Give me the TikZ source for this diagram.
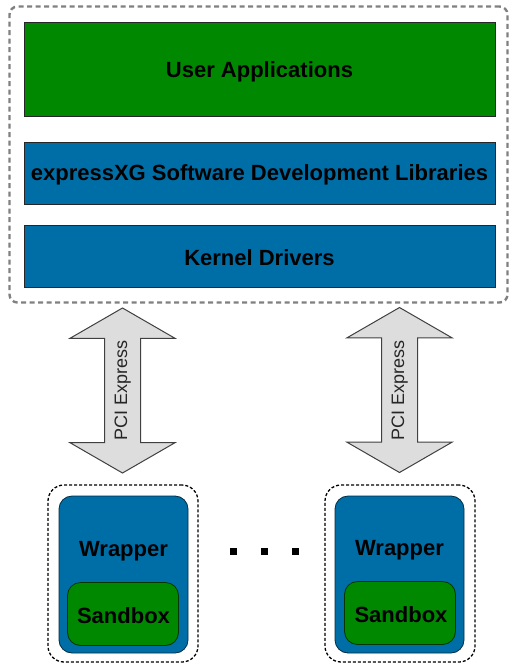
\documentclass[tikz,border=0pt]{standalone}
\usepackage{fontspec}
\setmainfont{Liberation Sans}
\usetikzlibrary{shapes.arrows}
\definecolor{appgreen}{HTML}{008800}
\definecolor{layblue}{HTML}{006EA6}
\definecolor{arrowgray}{HTML}{DDDDDD}
\tikzset{
  layer/.style={draw=black!85, line width=1pt, minimum width=471pt, font=\fontsize{22}{24}\selectfont\bfseries, inner sep=0pt},
  hostbox/.style={draw=black!50, dash pattern=on 5pt off 3.5pt, line width=2.4pt, rounded corners=8pt, minimum width=498pt, minimum height=296pt, inner sep=0pt},
  fpgabox/.style={draw=black, dash pattern=on 3pt off 2pt, line width=1.3pt, rounded corners=16pt, minimum width=150pt, minimum height=177pt, inner sep=0pt},
  wrapbox/.style={draw=black!60!layblue, line width=0.8pt, fill=layblue, rounded corners=13pt, minimum width=129pt, minimum height=157pt, inner sep=0pt},
  sandbox/.style={draw=black!60!appgreen, line width=0.8pt, fill=appgreen, rounded corners=13pt, minimum width=111pt, minimum height=63pt, inner sep=0pt, font=\fontsize{22}{24}\selectfont\bfseries},
  lbl/.style={font=\fontsize{22}{24}\selectfont\bfseries, inner sep=0pt},
  pcie/.style={double arrow, draw=black!75, line width=1pt, fill=arrowgray, rotate=90,
    minimum height=165pt, double arrow head extend=34.5pt, double arrow tip angle=120,
    text height=13pt, text depth=4pt, inner xsep=0pt, inner ysep=9pt,
    font=\fontsize{18}{20}\selectfont, text=black!85},
  dot/.style={fill=black, minimum size=7pt, inner sep=0pt}
}
\begin{document}
\begin{tikzpicture}[x=1pt,y=-1pt]
\useasboundingbox (0,0) rectangle (509,664);
\node[hostbox] (host) at (258.5,154.5) {};
\node[layer, fill=appgreen, minimum height=94pt] (apps) at (259.5,69) {};
\node[lbl] (appst) at (259.5,72) {User Applications};
\node[layer, fill=layblue, minimum height=62pt] (sdk) at (259.5,173) {};
\node[lbl] (sdkt) at (259.5,175) {expressXG Software Development Libraries};
\node[layer, fill=layblue, minimum height=62pt] (kernel) at (259.5,256) {};
\node[lbl] (kernelt) at (259.5,258) {Kernel Drivers};

\node[fpgabox] (fpgaA) at (123,573.5) {};
\node[wrapbox] (wrapA) at (123.5,574.5) {};
\node[lbl] (wrapAt) at (123.5,551) {Wrapper};
\node[sandbox] (sbA) at (123,614) {};
\node[lbl] (sbAt) at (123.5,616) {Sandbox};

\node[fpgabox] (fpgaB) at (400,573.5) {};
\node[wrapbox] (wrapB) at (399.5,574.5) {};
\node[lbl] (wrapBt) at (399.5,550) {Wrapper};
\node[sandbox] (sbB) at (400,613) {};
\node[lbl] (sbBt) at (401,615) {Sandbox};

\node[pcie] (pcieA) at (122.5,390.5) {PCI Express};
\node[pcie] (pcieB) at (399.5,390) {PCI Express};

\node[dot] (d1) at (233,551) {};
\node[dot] (d2) at (264,551) {};
\node[dot] (d3) at (295,551) {};
\end{tikzpicture}
\end{document}
